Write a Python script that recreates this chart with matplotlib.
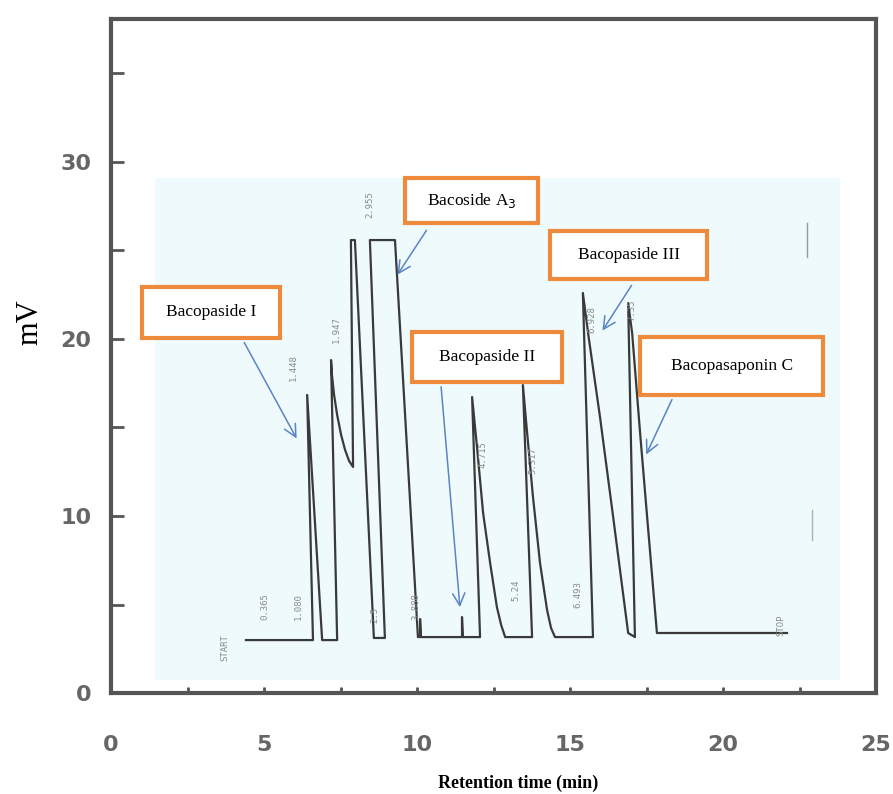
import matplotlib.pyplot as plt
from matplotlib.patches import Rectangle

# chromatogram trace (time in min, signal in mV)
t = [4.41, 6.60, 6.41, 6.90, 7.39, 7.19, 7.22, 7.29, 7.39, 7.52, 7.65, 7.78, 7.91, 7.84, 7.97,
     8.59, 8.95, 8.46, 9.28, 10.03, 10.10, 10.10, 10.13, 11.47, 11.47, 11.50, 12.06,
     11.80, 11.96, 12.16, 12.39, 12.61, 12.75, 12.88, 13.76, 13.46, 13.59, 13.79, 14.02,
     14.25, 14.38, 14.51, 15.75, 15.42, 15.59, 15.98, 16.41, 16.90, 17.12, 16.90, 17.03,
     17.29, 17.52, 17.84, 22.09]
mv = [2.99, 2.99, 16.84, 2.99, 2.99, 18.81, 17.97, 16.84, 15.71, 14.58, 13.73, 13.11, 12.77, 25.59, 25.59,
      3.11, 3.11, 25.59, 25.59, 3.16, 3.16, 4.18, 3.16, 3.16, 4.29, 3.16, 3.16,
      16.72, 13.90, 10.17, 7.34, 4.86, 3.84, 3.16, 3.16, 17.40, 14.86, 11.07, 7.34,
      4.69, 3.67, 3.16, 3.16, 22.60, 20.34, 15.59, 9.94, 3.39, 3.16, 22.03, 20.34,
      14.69, 9.94, 3.39, 3.39]

# recorder print-out of retention times
rt_labels = ['START', '0.365', '1.080', '1.448', '1.947', '2.5', '2.955', '3.888',
             '4.715', '5.24', '5.317', '6.493', '6.928', '7.35', 'STOP']
rt_x = [3.73, 5.03, 6.11, 5.95, 7.35, 8.63, 8.46, 9.97, 12.16, 13.24, 13.79, 15.26, 15.72, 17.03, 21.90]
rt_y = [2.54, 4.86, 4.86, 18.36, 20.51, 4.41, 27.57, 4.86, 13.45, 5.82, 13.16, 5.54, 21.07, 21.64, 3.84]

# compound boxes: name, box (x0, x1, y0, y1), arrow start, arrow tip
names = ['Bacopaside I', 'Bacoside A$_3$', 'Bacopaside II', 'Bacopaside III', 'Bacopasaponin C']
box_x0 = [1.01, 9.61, 9.84, 14.35, 17.29]
box_x1 = [5.52, 13.95, 14.74, 19.48, 23.27]
box_y0 = [20.06, 26.55, 17.57, 23.39, 16.84]
box_y1 = [22.94, 29.10, 20.40, 26.10, 20.11]
arr_from = [(4.31, 19.94), (10.36, 26.27), (10.78, 17.46), (17.06, 23.16), (18.37, 16.72)]
arr_to = [(6.11, 14.24), (9.31, 23.50), (11.41, 4.69), (16.01, 20.34), (17.45, 13.33)]

fig = plt.figure(figsize=(8.93, 7.94), dpi=100)
ax = fig.add_axes([0.1243, 0.1272, 0.8567, 0.8489])
ax.set_xlim(0, 25)
ax.set_ylim(0, 38.08)

# pale scanned paper area
ax.add_patch(Rectangle((1.44, 0.73), 22.38, 28.37, facecolor='#eefafc', edgecolor='none', zorder=0))

ax.plot(t, mv, color='#3a3a3a', lw=1.6, zorder=2)

for lab, x, y in zip(rt_labels, rt_x, rt_y):
    ax.text(x, y, lab, rotation=90, ha='center', va='center', fontsize=6.5,
            family='DejaVu Sans Mono', color='#8a8a8a', zorder=2)

# faint pen marks on the right edge
ax.plot([22.75, 22.75], [24.63, 26.55], color='#9a9aa0', lw=1)
ax.plot([22.91, 22.91], [8.64, 10.34], color='#b0b0b5', lw=1)

for i in range(len(names)):
    ax.add_patch(Rectangle((box_x0[i], box_y0[i]), box_x1[i] - box_x0[i], box_y1[i] - box_y0[i],
                           facecolor='white', edgecolor='#ed8a3c', lw=3, zorder=3))
    ax.text((box_x0[i] + box_x1[i]) / 2, (box_y0[i] + box_y1[i]) / 2, names[i],
            ha='center', va='center', family='Liberation Serif', fontsize=12.5, zorder=4)
    ax.annotate('', xy=arr_to[i], xytext=arr_from[i],
                arrowprops=dict(arrowstyle='->', color='#5b84c4', lw=1.1, mutation_scale=22), zorder=4)

for s in ax.spines.values():
    s.set_color('#555555')
    s.set_linewidth(3)

ax.set_xticks([0, 5, 10, 15, 20, 25])
ax.set_xticks([2.5, 7.5, 12.5, 17.5, 22.5], minor=True)
ax.set_yticks([0, 10, 20, 30])
ax.set_yticks([5, 15, 25, 35], minor=True)
ax.tick_params(axis='x', which='both', direction='in', length=4, width=2, color='#555555',
               pad=30, labelsize=16, labelcolor='#666666')
ax.tick_params(axis='y', which='both', direction='in', length=9, width=2, color='#555555',
               pad=14, labelsize=16, labelcolor='#666666')
for lab in ax.get_xticklabels() + ax.get_yticklabels():
    lab.set_fontweight('bold')

fig.text(0.034, 0.594, 'mV', rotation=90, ha='center', va='center', family='Liberation Serif', fontsize=22)
fig.text(0.58, 0.014, 'Retention time (min)', ha='center', va='center', family='Liberation Serif',
         fontweight='bold', fontsize=13)

fig.savefig('out.png', dpi=100)
